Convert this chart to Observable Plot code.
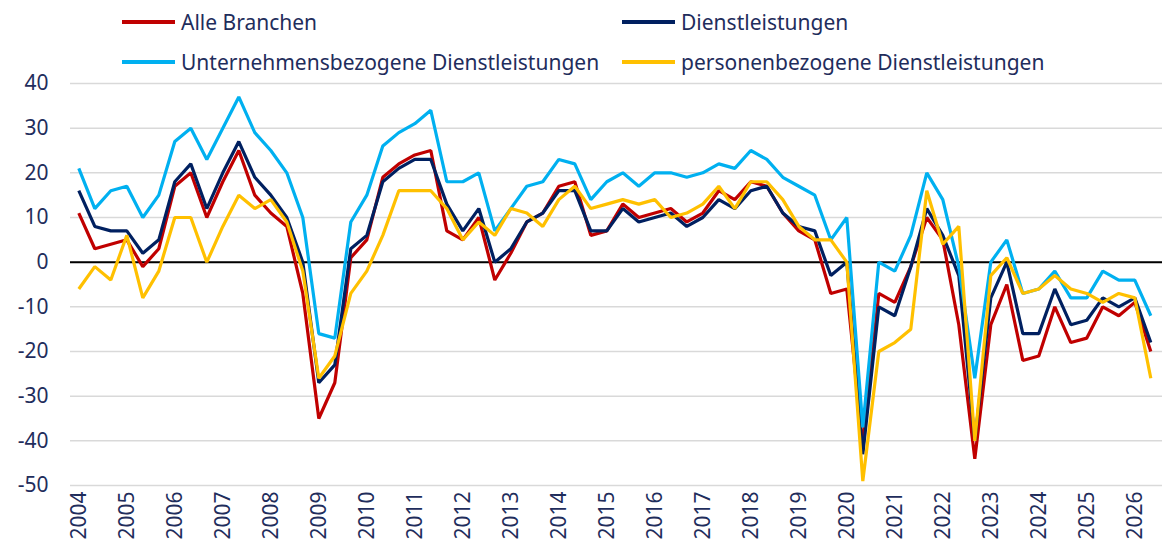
<!DOCTYPE html>
<html><head><meta charset="utf-8">
<script src="https://cdn.jsdelivr.net/npm/d3@7"></script>
<script src="https://cdn.jsdelivr.net/npm/@observablehq/plot@0.6"></script>
<style>
body{margin:0;background:#fff;font-family:"Noto Sans",sans-serif;}
#legend{position:relative;height:60px;width:1162px;z-index:2;}
.item{position:absolute;display:flex;align-items:center;font-size:21px;color:#1f2d5c;height:30px;line-height:30px;white-space:nowrap;}
.sw{width:53px;height:4px;margin-right:6px;}
#chart svg{display:block;}
</style></head><body>
<div id="legend"></div><div id="chart"></div>
<script>
// Years on the axis; three survey waves per year
const years = [2004,2005,2006,2007,2008,2009,2010,2011,2012,2013,2014,2015,2016,2017,2018,2019,2020,2021,2022,2023,2024,2025,2026];
const wavesPerYear = 3;
const yTicks = [40,30,20,10,0,-10,-20,-30,-40,-50];

const seriesNames = ["Alle Branchen","Dienstleistungen","Unternehmensbezogene Dienstleistungen","personenbezogene Dienstleistungen"];
const seriesColors = ["#c00000","#002060","#00b0f0","#ffc000"];

const alleBranchen = [11,3,4,5,-1,3,17,20,10,18,25,
  15,11,8,-7,-35,-27,1,5,19,22,24,
  25,7,5,10,-4,2,9,11,17,18,6,
  7,13,10,11,12,9,11,16,14,18,17,
  11,7,5,-7,-6,-41,-7,-9,-1,10,5,
  -14,-44,-14,-5,-22,-21,-10,-18,-17,-10,-12,-9,-20];
const dienstleistungen = [16,8,7,7,2,5,18,22,12,20,27,
  19,15,10,0,-27,-23,3,6,18,21,23,
  23,13,7,12,0,3,9,11,16,16,7,
  7,12,9,10,11,8,10,14,12,16,17,
  11,8,7,-3,0,-43,-10,-12,-1,12,6,
  -3,-40,-8,0,-16,-16,-6,-14,-13,-8,-10,-8,-18];
const unternehmensbezogene = [21,12,16,17,10,15,27,30,23,30,37,
  29,25,20,10,-16,-17,9,15,26,29,31,
  34,18,18,20,7,12,17,18,23,22,14,
  18,20,17,20,20,19,20,22,21,25,23,
  19,17,15,5,10,-37,0,-2,6,20,14,
  -1,-26,0,5,-7,-6,-2,-8,-8,-2,-4,-4,-12];
const personenbezogene = [-6,-1,-4,6,-8,-2,10,10,0,8,15,
  12,14,9,-2,-26,-21,-7,-2,6,16,16,
  16,12,5,9,6,12,11,8,14,17,12,
  13,14,13,14,10,11,13,17,12,18,18,
  14,8,5,5,0,-49,-20,-18,-15,16,4,
  8,-40,-3,1,-7,-6,-3,-6,-7,-9,-7,-8,-26];

const allSeries = [alleBranchen, dienstleistungen, unternehmensbezogene, personenbezogene];

// survey period (year + wave) for each index
const periods = [];
for (const y of years) for (let w = 0; w < wavesPerYear; w++) periods.push(y + w / wavesPerYear);

const rows = [];
allSeries.forEach((vals, s) => vals.forEach((v, i) => rows.push({series: seriesNames[s], t: periods[i], value: v})));

// legend
const legend = document.getElementById("legend");
const legendPos = [[122,7],[622,7],[122,47],[622,47]];
seriesNames.forEach((n, i) => {
  const d = document.createElement("div");
  d.className = "item";
  d.style.left = legendPos[i][0] + "px";
  d.style.top = legendPos[i][1] + "px";
  d.innerHTML = `<span class="sw" style="background:${seriesColors[i]}"></span><span>${n}</span>`;
  legend.appendChild(d);
});

const textColor = "#1f2d5c";
const chart = Plot.plot({
  width: 1162,
  height: 490,
  marginLeft: 70,
  marginRight: 0,
  marginTop: 23,
  marginBottom: 65,
  style: {fontFamily: '"Noto Sans", sans-serif', color: textColor, background: "transparent", overflow: "visible"},
  x: {domain: [2004 - 8.3/48, 2004 + (1162 - 78.3)/48]},
  y: {domain: [-50, 40]},
  color: {domain: seriesNames, range: seriesColors},
  marks: [
    Plot.ruleY(yTicks, {stroke: "#d9d9d9", strokeWidth: 1.5}),
    Plot.ruleY([0], {stroke: "#000", strokeWidth: 2}),
    Plot.line(rows, {x: "t", y: "value", z: "series", stroke: "series", strokeWidth: 3.2, strokeLinejoin: "miter", strokeLinecap: "butt"}),
    Plot.axisY({ticks: yTicks, tickSize: 0, tickPadding: 22, fontSize: 21, tickFormat: d => String(d), label: null, fill: textColor}),
    Plot.axisX({ticks: years, tickSize: 0, tickPadding: 6, tickRotate: -90, fontSize: 21, tickFormat: d => String(d), label: null, fill: textColor})
  ]
});
document.getElementById("chart").appendChild(chart);
</script>
</body></html>
